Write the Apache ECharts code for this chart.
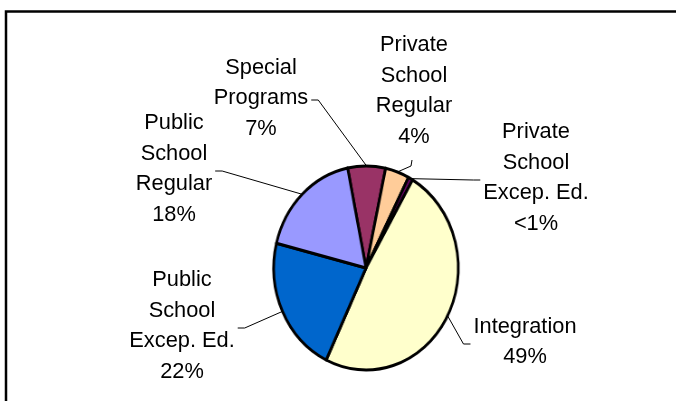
<!DOCTYPE html>
<html>
<head>
<meta charset="utf-8">
<script src="https://cdn.jsdelivr.net/npm/echarts@6/dist/echarts.min.js"></script>
<style>
  html, body { margin: 0; padding: 0; background: #ffffff; }
  #wrap { position: relative; width: 676px; height: 401px; overflow: hidden; }
  #pie, #labels { position: absolute; left: 0; top: 0; width: 676px; height: 401px; }
  /* the pie is drawn a little narrower than tall */
  #pie { transform: scaleX(0.905); transform-origin: 366px 268px; }
</style>
</head>
<body>
<div id="wrap">
  <div id="pie"></div>
  <div id="labels"></div>
</div>
<script>
// Placement of students, share of total (%)
const categories = [
  'Special\nPrograms',
  'Private\nSchool\nRegular',
  'Private\nSchool\nExcep. Ed.',
  'Integration',
  'Public\nSchool\nExcep. Ed.',
  'Public\nSchool\nRegular'
];
const shares = [6.6, 4.2, 0.8, 48.7, 21.8, 17.9];
const sliceColors = ['#993366', '#FFCC99', '#660066', '#FFFFCC', '#0066CC', '#9999FF'];

// geometry / styling
const CX = 366, CY = 268, R = 102, SQUASH = 0.905;
const START_ANGLE = 101.5;
const FONT = '"Liberation Sans", Arial, sans-serif';
const labelSpots = [
  { x: 261, y: 98,  side: 'right'  },
  { x: 414, y: 91,  side: 'bottom' },
  { x: 536, y: 178, side: 'left'   },
  { x: 525, y: 342, side: 'left'   },
  { x: 182, y: 326, side: 'right'  },
  { x: 174, y: 169, side: 'right'  }
];

// filled slices with black outlines
const sliceData = categories.map((name, i) => ({
  name: name,
  value: shares[i],
  itemStyle: { color: sliceColors[i], borderColor: '#000000', borderWidth: 3 }
}));
// same values, invisible wedges, used only to carry the labels
const labelData = categories.map((name, i) => ({
  name: name,
  value: shares[i]
}));

const pieChart = echarts.init(document.getElementById('pie'), null, { renderer: 'canvas' });
pieChart.setOption({
  animation: false,
  series: [{
    type: 'pie',
    silent: true,
    center: [CX, CY],
    radius: R,
    startAngle: START_ANGLE,
    clockwise: true,
    avoidLabelOverlap: false,
    label: { show: false },
    labelLine: { show: false },
    data: sliceData
  }]
});

// frame, text labels and leader lines
const labelChart = echarts.init(document.getElementById('labels'), null, { renderer: 'canvas' });
labelChart.setOption({
  animation: false,
  graphic: [{
    type: 'rect',
    silent: true,
    shape: { x: 6, y: 11.5, width: 720, height: 460 },
    style: { fill: 'none', stroke: '#000000', lineWidth: 2.5 }
  }],
  series: [{
    type: 'pie',
    silent: true,
    center: [CX, CY],
    radius: R,
    startAngle: START_ANGLE,
    clockwise: true,
    avoidLabelOverlap: false,
    itemStyle: { color: 'rgba(0,0,0,0)', borderWidth: 0 },
    label: {
      show: true,
      position: 'outside',
      color: '#000000',
      fontFamily: FONT,
      fontSize: 21.8,
      lineHeight: 30.5,
      align: 'center',
      formatter: p => p.name + '\n' + (p.value < 1 ? '<1' : Math.round(p.value)) + '%'
    },
    labelLine: {
      show: true,
      lineStyle: { color: '#000000', width: 1 }
    },
    labelLayout: function (params) {
      const s = labelSpots[params.dataIndex];
      const w = params.labelRect.width, h = params.labelRect.height;
      const p0 = params.labelLinePoints ? params.labelLinePoints[0] : [CX, CY];
      const start = [CX + (p0[0] - CX) * SQUASH, p0[1]];
      let p1, p2;
      if (s.side === 'right') {
        const ex = s.x + w / 2 + 3;
        p2 = [ex, s.y + 2]; p1 = [ex + 7, s.y + 2];
      } else if (s.side === 'left') {
        const ex = s.x - w / 2 - 3;
        p2 = [ex, s.y + 2]; p1 = [ex - 7, s.y + 2];
      } else {
        const ey = s.y + h / 2 + 8;
        p2 = [s.x - 2, ey]; p1 = [s.x - 3, ey + 6];
      }
      return {
        x: s.x, y: s.y,
        align: 'center', verticalAlign: 'middle',
        labelLinePoints: [start, p1, p2]
      };
    },
    data: labelData
  }]
});
</script>
</body>
</html>
